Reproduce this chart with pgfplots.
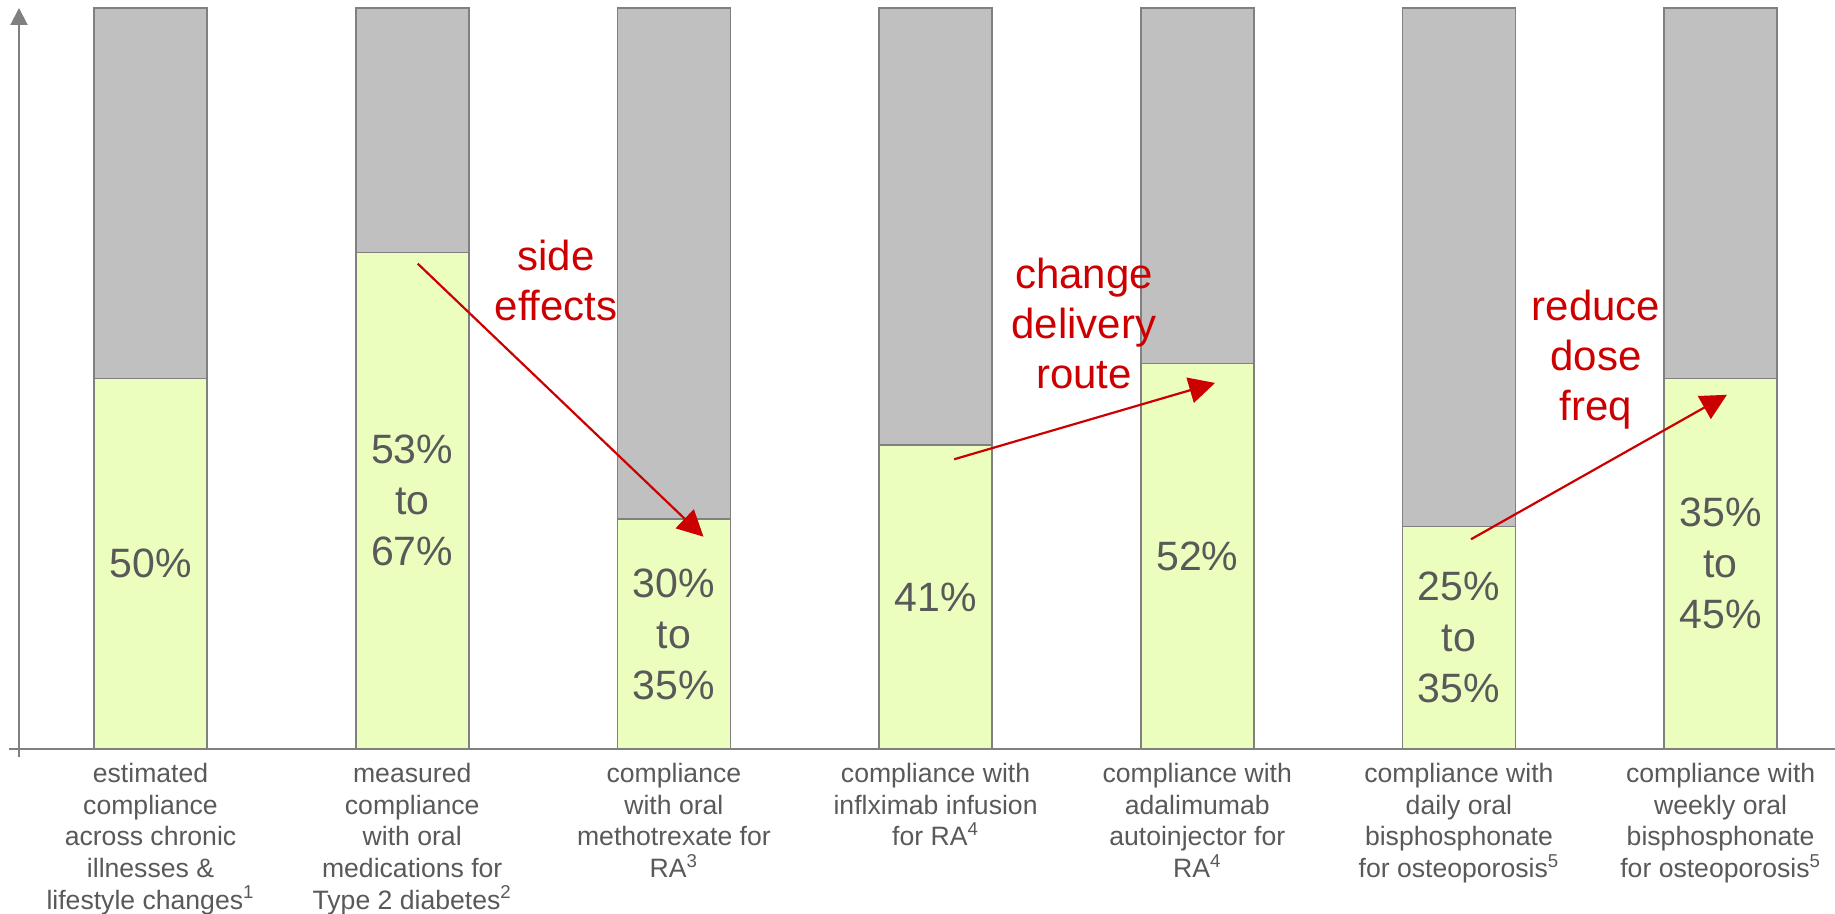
\documentclass[border=0pt]{standalone}
\usepackage{pgfplots}
\pgfplotsset{compat=1.18}
\usepackage{fontspec}
\setmainfont{Liberation Sans}
\usetikzlibrary{arrows.meta}
\definecolor{cgreen}{RGB}{235,254,190}
\definecolor{cgray}{RGB}{192,192,192}
\definecolor{cedge}{RGB}{128,128,128}
\definecolor{ctext}{RGB}{89,89,89}
\definecolor{cred}{RGB}{204,0,0}
\tikzset{
  vlab/.style={text=ctext, font=\fontsize{20.5}{25.5}\selectfont, align=center},
  rlab/.style={text=cred, font=\fontsize{21}{25}\selectfont, align=center},
  rarr/.style={draw=cred, line width=1.1pt, -{Triangle[length=13pt,width=13pt]}},
}
\begin{document}
\begin{tikzpicture}
\useasboundingbox (0,0) rectangle (917.5pt,457pt);
\begin{axis}[
  at={(9.5pt,82.5pt)}, anchor=south west,
  scale only axis, width=908pt, height=370.5pt,
  xmin=-0.5026, xmax=6.437, ymin=0, ymax=100,
  ybar, bar width=56.5pt, bar shift=0pt,
  axis x line*=bottom, axis y line=left,
  axis line style={cedge, line width=1pt},
  x axis line style={shorten <=-5pt},
  y axis line style={shorten <=-4pt, -{Triangle[length=8.5pt,width=8.5pt]}},
  ytick=\empty, xtick={0,1,2,3,4,5,6},
  major tick length=0pt,
  xticklabels={
    {estimated\\compliance\\across chronic\\illnesses \&\\lifestyle changes\textsuperscript{1}},
    {measured\\compliance\\with oral\\medications for\\Type 2 diabetes\textsuperscript{2}},
    {compliance\\with oral\\methotrexate for\\RA\textsuperscript{3}},
    {compliance with\\inflximab infusion\\for RA\textsuperscript{4}},
    {compliance with\\adalimumab\\autoinjector for\\RA\textsuperscript{4}},
    {compliance with\\daily oral\\bisphosphonate\\for osteoporosis\textsuperscript{5}},
    {compliance with\\weekly oral\\bisphosphonate\\for osteoporosis\textsuperscript{5}}
  },
  xticklabel style={align=center, font=\fontsize{13.3}{15.8}\selectfont, text=ctext, inner sep=0pt, yshift=-7pt},
  clip=false,
]
% remainder (grey) drawn as full bar, compliance (green) on top of it
\addplot[fill=cgray, draw=cedge, line width=0.8pt] coordinates {(0,100) (1,100) (2,100) (3,100) (4,100) (5,100) (6,100)};
\addplot[fill=cgreen, draw=cedge, line width=0.8pt] coordinates {(0,50) (1,67) (2,31) (3,41) (4,52) (5,30) (6,50)};

\node[vlab] at (axis cs:0,25) {50\%};
\node[vlab] at (axis cs:1,33.5) {53\%\\to\\67\%};
\node[vlab] at (axis cs:2,15.5) {30\%\\to\\35\%};
\node[vlab] at (axis cs:3,20.5) {41\%};
\node[vlab] at (axis cs:4,26) {52\%};
\node[vlab] at (axis cs:5,15) {25\%\\to\\35\%};
\node[vlab] at (axis cs:6,25) {35\%\\to\\45\%};

\node[rlab] at (axis cs:1.55,63.2) {side\\effects};
\node[rlab] at (axis cs:3.567,57.4) {change\\delivery\\route};
\node[rlab] at (axis cs:5.524,52.6) {reduce\\dose\\freq};

\draw[rarr] (axis cs:1.021,65.5) -- (axis cs:2.113,28.65);
\draw[rarr] (axis cs:3.071,39.1) -- (axis cs:4.068,49.4);
\draw[rarr] (axis cs:5.046,28.3) -- (axis cs:6.024,47.8);
\end{axis}
\end{tikzpicture}
\end{document}
